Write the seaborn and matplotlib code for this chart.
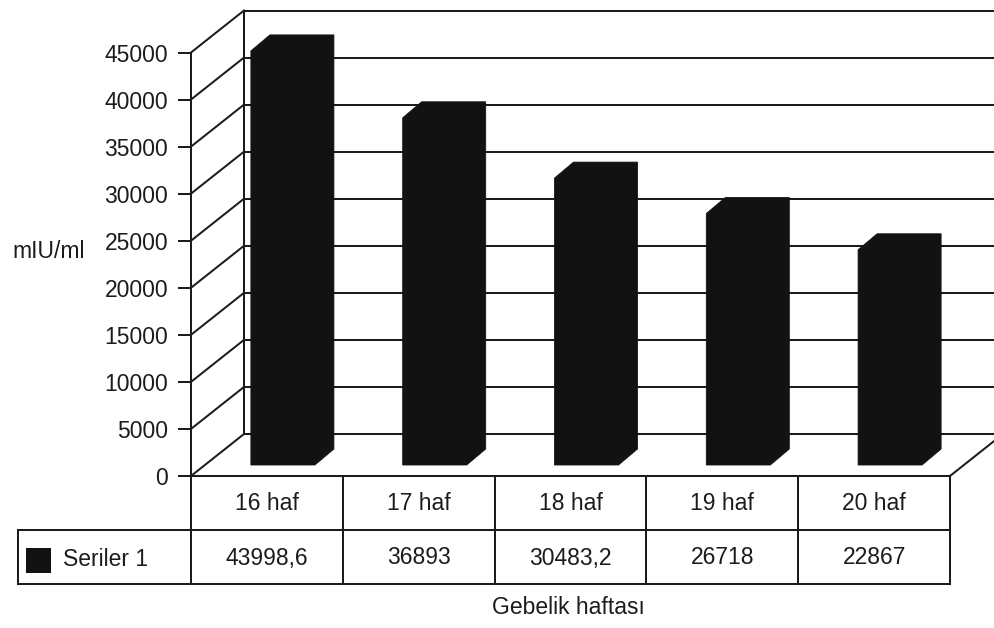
import matplotlib
matplotlib.use("Agg")
import matplotlib.pyplot as plt
import pandas as pd
import seaborn as sns
from matplotlib.patches import Polygon, Rectangle

# ---- data -------------------------------------------------------------
weeks = ["16 haf", "17 haf", "18 haf", "19 haf", "20 haf"]
hcg_values = [43998.6, 36893, 30483.2, 26718, 22867]
series_name = "Seriler 1"
y_ticks = [0, 5000, 10000, 15000, 20000, 25000, 30000, 35000, 40000, 45000]
y_label = "mIU/ml"
x_label = "Gebelik haftası"


def fmt_tr(v):
    """Turkish decimal comma."""
    return f"{v:g}".replace(".", ",")


# ---- style ------------------------------------------------------------
sns.set_theme(style="white")
plt.rcParams["font.family"] = ["Liberation Sans", "DejaVu Sans"]

INK = "#1c1c1c"
BAR = "#121212"
LW = 1.45
FS = 16.5

W, H = 995, 628
fig = plt.figure(figsize=(W / 100, H / 100), dpi=100)
fig.patch.set_facecolor("white")

# front plane of the pseudo-3D box, in pixels (from the top-left corner)
X0, X1 = 191, 950
Y0, Y1 = 476, 52.5
col_w = (X1 - X0) / len(weeks)

# overlay canvas in pixel units for the data table and captions
ax_t = fig.add_axes([0, 0, 1, 1])
ax_t.set_xlim(0, W)
ax_t.set_ylim(H, 0)
ax_t.axis("off")
ax_t.patch.set_visible(False)

ax = fig.add_axes([X0 / W, 1 - Y0 / H, (X1 - X0) / W, (Y0 - Y1) / H])
ax.set_facecolor("none")

df = pd.DataFrame({"hafta": weeks, "deger": hcg_values})
sns.barplot(data=df, x="hafta", y="deger", color=BAR, saturation=1,
            width=64 / col_w, errorbar=None, linewidth=0, ax=ax)

ax.set_xlim(-0.5, len(weeks) - 0.5)
ax.set_ylim(0, max(y_ticks))

# depth of the box and of the columns, in data units
ppu = (Y0 - Y1) / max(y_ticks)          # pixels per value unit
DX, DY = 53 / col_w, 42 / ppu           # full box depth
SX, SY = 16 / col_w, 11 / ppu           # column front face offset
BX, BY = 19 / col_w, 16 / ppu           # column depth

wall = dict(color=INK, lw=LW, clip_on=False, zorder=0.5, solid_capstyle="projecting")
xl, xr = -0.5, len(weeks) - 0.5
for v in y_ticks:
    ax.plot([xl, xl + DX], [v, v + DY], **wall)
    ax.plot([xl + DX, xr + DX], [v + DY, v + DY], **wall)
ax.plot([xl + DX, xl + DX], [DY, max(y_ticks) + DY], **wall)
ax.plot([xr, xr + DX], [0, DY], **wall)
ax.plot([xr + DX, xr + DX], [DY, max(y_ticks) + DY], **wall)

# turn the flat bars into extruded columns (top and side drawn as one solid shape)
for p in list(ax.patches):
    x0 = p.get_x() + SX
    w = p.get_width()
    h = p.get_height()
    x1 = x0 + w
    y0, y1 = SY, SY + h
    p.set_visible(False)
    ax.add_patch(Polygon([(x0, y0), (x0, y1), (x0 + BX, y1 + BY), (x1 + BX, y1 + BY),
                          (x1 + BX, y0 + BY), (x1, y0)],
                         closed=True, fc=BAR, ec=BAR, lw=0.6,
                         clip_on=False, zorder=2))

for s in ("top", "right"):
    ax.spines[s].set_visible(False)
for s in ("left", "bottom"):
    ax.spines[s].set_color(INK)
    ax.spines[s].set_linewidth(LW)

ax.set_yticks(y_ticks)
ax.set_yticklabels([str(t) for t in y_ticks])
ax.tick_params(axis="y", left=True, length=9.4, width=LW, pad=7,
               labelsize=FS, colors=INK, direction="out")
ax.tick_params(axis="x", bottom=False, labelbottom=False)
ax.set_xlabel("")
ax.set_ylabel(y_label, rotation=0, fontsize=FS, color=INK, ha="center", va="center")
ax.yaxis.set_label_coords((48.5 - X0) / (X1 - X0), (Y0 - 252) / (Y0 - Y1))

# ---- data table -------------------------------------------------------
row_mid, row_bot = 530, 584
tl = dict(color=INK, lw=LW, solid_capstyle="projecting")
for k in range(len(weeks) + 1):
    x = X0 + k * col_w
    ax_t.plot([x, x], [Y0, row_bot], **tl)
ax_t.plot([18, X1], [row_mid, row_mid], **tl)
ax_t.plot([18, X1], [row_bot, row_bot], **tl)
ax_t.plot([18, 18], [row_mid, row_bot], **tl)

for k, (wk, v) in enumerate(zip(weeks, hcg_values)):
    cx = X0 + (k + 0.5) * col_w
    ax_t.text(cx, 504, wk, ha="center", va="center", fontsize=FS, color=INK)
    ax_t.text(cx, 558, fmt_tr(v), ha="center", va="center", fontsize=FS, color=INK)

ax_t.add_patch(Rectangle((26, 548), 25, 25, fc=BAR, ec="none"))
ax_t.text(63, 560, series_name, ha="left", va="center", fontsize=FS, color=INK)
ax_t.text(568, 607, x_label, ha="center", va="center", fontsize=FS, color=INK)

fig.savefig("out.png", dpi=100, facecolor="white")
